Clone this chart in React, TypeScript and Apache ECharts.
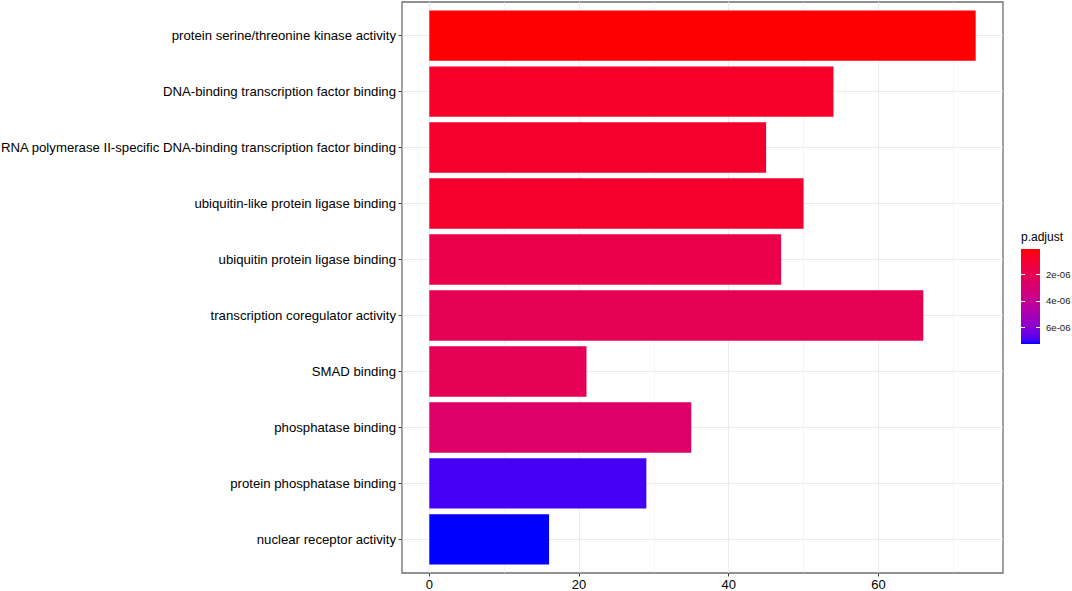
import React, { useEffect, useRef } from "react";
import * as echarts from "echarts";

const categories = [
  "protein serine/threonine kinase activity",
  "DNA-binding transcription factor binding",
  "RNA polymerase II-specific DNA-binding transcription factor binding",
  "ubiquitin-like protein ligase binding",
  "ubiquitin protein ligase binding",
  "transcription coregulator activity",
  "SMAD binding",
  "phosphatase binding",
  "protein phosphatase binding",
  "nuclear receptor activity",
];
const counts = [73, 54, 45, 50, 47, 66, 21, 35, 29, 16];
const pAdjust = [7e-8, 7.9e-7, 8.6e-7, 8.6e-7, 1.73e-6, 2.01e-6, 2.09e-6, 2.59e-6, 6.98e-6, 7.27e-6];
const xTicks = [0, 20, 40, 60];
const legendTicks = [2e-6, 4e-6, 6e-6];
const legendTickLabels = ["2e-06", "4e-06", "6e-06"];

const P_MIN = Math.min(...pAdjust);
const P_MAX = Math.max(...pAdjust);
const X_MIN = -3.65;
const X_MAX = 76.65;
const LOW_COLOR = "#FF0000";
const HIGH_COLOR = "#0000FF";
const FONT = "'Liberation Sans', Arial, Helvetica, sans-serif";

function hexToLab(hex: string) {
  const lin = (c: number) => (c <= 0.04045 ? c / 12.92 : Math.pow((c + 0.055) / 1.055, 2.4));
  const R = lin(parseInt(hex.slice(1, 3), 16) / 255);
  const G = lin(parseInt(hex.slice(3, 5), 16) / 255);
  const B = lin(parseInt(hex.slice(5, 7), 16) / 255);
  const X = (0.4124 * R + 0.3576 * G + 0.1805 * B) / 0.95047;
  const Y = 0.2126 * R + 0.7152 * G + 0.0722 * B;
  const Z = (0.0193 * R + 0.1192 * G + 0.9505 * B) / 1.08883;
  const f = (t: number) => (t > 0.008856 ? Math.cbrt(t) : 7.787 * t + 16 / 116);
  const fx = f(X), fy = f(Y), fz = f(Z);
  return [116 * fy - 16, 500 * (fx - fy), 200 * (fy - fz)];
}

function labToHex(L: number, a: number, b: number) {
  const fy = (L + 16) / 116;
  const fx = fy + a / 500;
  const fz = fy - b / 200;
  const finv = (t: number) => (t * t * t > 0.008856 ? t * t * t : (t - 16 / 116) / 7.787);
  const X = 0.95047 * finv(fx);
  const Y = finv(fy);
  const Z = 1.08883 * finv(fz);
  const R = 3.2406 * X - 1.5372 * Y - 0.4986 * Z;
  const G = -0.9689 * X + 1.8758 * Y + 0.0415 * Z;
  const B = 0.0557 * X - 0.204 * Y + 1.057 * Z;
  const gam = (c: number) => {
    c = Math.min(1, Math.max(0, c));
    const v = c <= 0.0031308 ? 12.92 * c : 1.055 * Math.pow(c, 1 / 2.4) - 0.055;
    return Math.round(v * 255).toString(16).padStart(2, "0");
  };
  return "#" + gam(R) + gam(G) + gam(B);
}

function labStops(n: number) {
  const a = hexToLab(LOW_COLOR);
  const b = hexToLab(HIGH_COLOR);
  const out: string[] = [];
  for (let i = 0; i < n; i++) {
    const t = i / (n - 1);
    out.push(labToHex(a[0] + (b[0] - a[0]) * t, a[1] + (b[1] - a[1]) * t, a[2] + (b[2] - a[2]) * t));
  }
  return out;
}

export default function App() {
  const ref = useRef<HTMLDivElement>(null);
  useEffect(() => {
    if (!ref.current) return;
    const chart = echarts.init(ref.current, undefined, { renderer: "svg" });
    const stops = labStops(31);
    const gradient = new echarts.graphic.LinearGradient(
      0, 0, 0, 1,
      stops.map((c, i) => ({ offset: i / (stops.length - 1), color: c }))
    );
    const rowIdx = categories.map((_, i) => i);
    const option: any = {
      animation: false,
      backgroundColor: "#ffffff",
      textStyle: { fontFamily: FONT },
      title: {
        text: "p.adjust",
        left: 1021,
        top: 231,
        padding: 0,
        textStyle: { fontFamily: FONT, fontSize: 12, fontWeight: "normal", color: "#000" },
      },
      grid: [
        { left: 402, top: 2, width: 601, height: 571, show: true, borderColor: "#6e6e6e", borderWidth: 1.3, backgroundColor: "transparent", containLabel: false, outerBoundsMode: "none" },
        { left: 402, top: 7.6, width: 601, height: 559.8, containLabel: false, outerBoundsMode: "none" },
        { left: 1021, top: 249, width: 19, height: 95, show: true, borderWidth: 0, backgroundColor: gradient, containLabel: false, outerBoundsMode: "none" },
      ],
      xAxis: [
        {
          gridIndex: 0,
          type: "value",
          position: "bottom",
          min: X_MIN,
          max: X_MAX,
          axisLine: { show: false, onZero: false },
          axisTick: { show: true, customValues: xTicks, length: 3.5, lineStyle: { color: "#444", width: 1 } },
          axisLabel: { customValues: xTicks, margin: 5, fontSize: 13, color: "#000", fontFamily: FONT },
          splitLine: { show: true, lineStyle: { color: "#EBEBEB", width: 1 } },
          minorTick: { show: false, splitNumber: 2 },
          minorSplitLine: { show: true, lineStyle: { color: "#EFEFEF", width: 0.6 } },
        },
        { gridIndex: 1, type: "value", min: X_MIN, max: X_MAX, show: false, axisLine: { onZero: false } },
        { gridIndex: 2, type: "value", show: false, axisLine: { onZero: false } },
      ],
      yAxis: [
        {
          gridIndex: 0,
          type: "value",
          position: "left",
          min: -0.6,
          max: categories.length - 0.4,
          inverse: true,
          axisLine: { show: false, onZero: false },
          axisTick: { show: false, customValues: rowIdx },
          axisLabel: { show: false, customValues: rowIdx },
          splitLine: { show: true, lineStyle: { color: "#EBEBEB", width: 1 } },
        },
        {
          gridIndex: 1,
          type: "category",
          position: "left",
          data: categories,
          inverse: true,
          axisLine: { show: false, onZero: false },
          axisTick: { show: true, alignWithLabel: true, length: 3.5, lineStyle: { color: "#444", width: 1 } },
          axisLabel: { margin: 6, fontSize: 13.2, color: "#000", fontFamily: FONT },
          splitLine: { show: false },
        },
        {
          gridIndex: 2,
          type: "value",
          min: P_MIN,
          max: P_MAX,
          inverse: true,
          position: "left",
          axisLine: { show: false, onZero: false },
          axisTick: { show: true, inside: true, length: 4, customValues: legendTicks, lineStyle: { color: "#fff", width: 1 } },
          axisLabel: { show: false },
          splitLine: { show: false },
        },
        {
          gridIndex: 2,
          type: "value",
          min: P_MIN,
          max: P_MAX,
          inverse: true,
          position: "right",
          axisLine: { show: false, onZero: false },
          axisTick: { show: true, inside: true, length: 4, customValues: legendTicks, lineStyle: { color: "#fff", width: 1 } },
          axisLabel: {
            show: true,
            customValues: legendTicks,
            margin: 6,
            fontSize: 9.6,
            color: "#1a1a1a",
            fontFamily: FONT,
            formatter: (v: number) => {
              let best = 0;
              legendTicks.forEach((t, i) => {
                if (Math.abs(t - v) < Math.abs(legendTicks[best] - v)) best = i;
              });
              return legendTickLabels[best];
            },
          },
          splitLine: { show: false },
        },
      ],
      visualMap: {
        show: false,
        type: "continuous",
        seriesIndex: 0,
        dimension: 2,
        min: P_MIN,
        max: P_MAX,
        inRange: { color: stops },
      },
      series: [
        {
          type: "bar",
          xAxisIndex: 1,
          yAxisIndex: 1,
          barWidth: "90%",
          encode: { x: 0, y: 1 },
          data: categories.map((c, i) => [counts[i], c, pAdjust[i]]),
        },
      ],
    };
    chart.setOption(option);
    return () => chart.dispose();
  }, []);
  return (
    <div
      ref={ref}
      style={{ position: "fixed", left: 0, top: 0, width: 1072, height: 591, background: "#fff" }}
    />
  );
}
